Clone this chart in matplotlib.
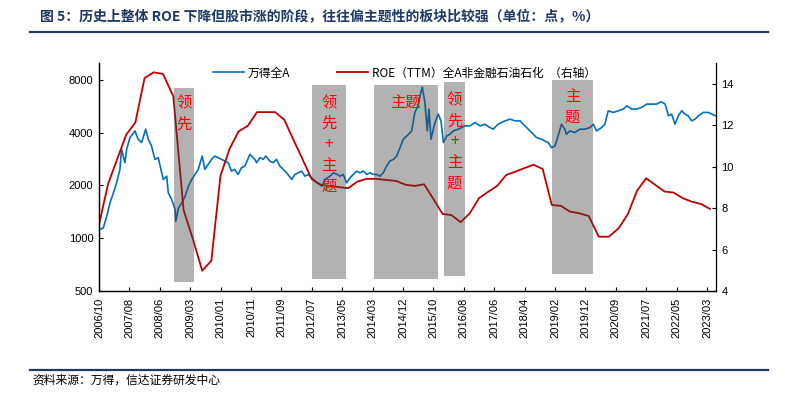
import numpy as np
import pandas as pd
import matplotlib
matplotlib.use("Agg")
import matplotlib.pyplot as plt
from matplotlib.patches import Rectangle
from matplotlib.lines import Line2D
from matplotlib.ticker import NullLocator

plt.rcParams['font.family'] = ['Noto Sans CJK SC', 'DejaVu Sans']

# ---------------- data ----------------
tick_labels = ['2006/10', '2007/08', '2008/06', '2009/03', '2010/01', '2010/11',
               '2011/09', '2012/07', '2013/05', '2014/03', '2014/12', '2015/10',
               '2016/08', '2017/06', '2018/04', '2019/02', '2019/12', '2020/09',
               '2021/07', '2022/05', '2023/03']

wind_dates = [
    '2006-10-01', '2006-11-13', '2006-12-17', '2007-01-19', '2007-02-22', '2007-03-26',
    '2007-04-28', '2007-05-14', '2007-06-17', '2007-07-04', '2007-08-07', '2007-09-26',
    '2007-10-28', '2007-12-02', '2008-01-11', '2008-02-07', '2008-03-10', '2008-04-13',
    '2008-05-16', '2008-06-18', '2008-07-02', '2008-08-02', '2008-08-16', '2008-09-16',
    '2008-10-16', '2008-10-22', '2008-11-15', '2008-12-15', '2009-01-14', '2009-02-13',
    '2009-03-16', '2009-04-18', '2009-05-21', '2009-06-30', '2009-07-27', '2009-08-29',
    '2009-10-03', '2009-11-06', '2009-12-08', '2010-01-11', '2010-02-14', '2010-03-17',
    '2010-04-20', '2010-05-23', '2010-06-25', '2010-07-29', '2010-09-01', '2010-10-21',
    '2010-12-10', '2010-12-27', '2011-01-30', '2011-03-02', '2011-03-29', '2011-05-08',
    '2011-06-11', '2011-07-14', '2011-08-17', '2011-09-20', '2011-10-23', '2011-12-13',
    '2012-01-15', '2012-02-18', '2012-03-21', '2012-04-24', '2012-05-27', '2012-07-16',
    '2012-08-19', '2012-09-22', '2012-10-09', '2012-11-11', '2012-12-30', '2013-02-03',
    '2013-03-12', '2013-04-09', '2013-05-11', '2013-06-15', '2013-07-18', '2013-08-20',
    '2013-09-24', '2013-10-26', '2013-11-29', '2014-01-02', '2014-02-05', '2014-03-07',
    '2014-04-07', '2014-05-06', '2014-06-06', '2014-07-06', '2014-08-05', '2014-09-05',
    '2014-10-05', '2014-11-04', '2014-12-04', '2015-01-08', '2015-02-10', '2015-02-26',
    '2015-03-29', '2015-05-01', '2015-05-28', '2015-06-12', '2015-07-08', '2015-08-01',
    '2015-08-17', '2015-09-07', '2015-09-30', '2015-10-23', '2015-11-19', '2015-12-16',
    '2016-01-09', '2016-02-12', '2016-03-15', '2016-04-17', '2016-06-07', '2016-07-10',
    '2016-08-12', '2016-10-02', '2016-11-21', '2017-01-10', '2017-02-28', '2017-04-19',
    '2017-05-21', '2017-07-11', '2017-09-17', '2017-11-07', '2017-12-26', '2018-02-15',
    '2018-03-18', '2018-04-21', '2018-06-11', '2018-07-30', '2018-09-19', '2018-10-22',
    '2018-11-25', '2018-12-28', '2019-02-01', '2019-03-04', '2019-04-07', '2019-05-09',
    '2019-05-26', '2019-06-28', '2019-08-18', '2019-10-07', '2019-11-26', '2020-01-11',
    '2020-02-11', '2020-03-11', '2020-04-25', '2020-05-25', '2020-06-24', '2020-08-09',
    '2020-09-25', '2020-11-15', '2020-12-19', '2021-02-08', '2021-03-27', '2021-05-16',
    '2021-07-06', '2021-08-25', '2021-10-14', '2021-11-27', '2022-01-06', '2022-02-09',
    '2022-03-12', '2022-04-15', '2022-05-18', '2022-06-21', '2022-07-24', '2022-08-26',
    '2022-09-29', '2022-11-02', '2022-12-05', '2023-01-24', '2023-03-14', '2023-04-17',
    '2023-05-29']

wind_values = [
    1119, 1144, 1334, 1592, 1816, 2072,
    2470, 3217, 2699, 3217, 3755, 4097,
    3672, 3515, 4190, 3672, 3361, 2819,
    2884, 2365, 2165, 2261, 1816, 1662,
    1457, 1248, 1490, 1592, 1736, 1982,
    2165, 2313, 2470, 2945, 2470, 2639,
    2819, 2945, 2884, 2819, 2757, 2699,
    2416, 2470, 2313, 2526, 2581, 3012,
    2819, 2699, 2884, 2819, 2945, 2757,
    2699, 2819, 2581, 2470, 2365, 2165,
    2313, 2365, 2416, 2261, 2313, 2165,
    2072, 2026, 1982, 2165, 2261, 2365,
    2313, 2261, 2313, 2072, 2214, 2313,
    2416, 2365, 2416, 2313, 2365, 2313,
    2313, 2261, 2365, 2581, 2757, 2819,
    2945, 3290, 3672, 3835, 4011, 4097,
    5224, 5697, 6802, 7266, 5959, 4097,
    5457, 3672, 4190, 4675, 5106, 4675,
    3515, 3835, 3922, 4097, 4190, 4284,
    4376, 4376, 4577, 4376, 4475, 4284,
    4190, 4475, 4675, 4780, 4675, 4675,
    4475, 4284, 4011, 3755, 3672, 3590,
    3515, 3290, 3361, 3835, 4475, 4190,
    3922, 4097, 4011, 4190, 4190, 4284,
    4475, 4097, 4284, 4475, 5333, 5224,
    5333, 5457, 5697, 5457, 5457, 5579,
    5828, 5828, 5828, 6009, 5828, 4994,
    5106, 4475, 4994, 5333, 5106, 4994,
    4675, 4780, 4994, 5224, 5224, 5106,
    4994]

roe_quarters = [
    '2006Q3', '2006Q4',
    '2007Q1', '2007Q2', '2007Q3', '2007Q4',
    '2008Q1', '2008Q2', '2008Q3', '2008Q4',
    '2009Q1', '2009Q2', '2009Q3', '2009Q4',
    '2010Q1', '2010Q2', '2010Q3', '2010Q4',
    '2011Q1', '2011Q2', '2011Q3', '2011Q4',
    '2012Q1', '2012Q2', '2012Q3', '2012Q4',
    '2013Q1', '2013Q2', '2013Q3', '2013Q4',
    '2014Q1', '2014Q2', '2014Q3', '2014Q4',
    '2015Q1', '2015Q2', '2015Q3', '2015Q4',
    '2016Q1', '2016Q2', '2016Q3', '2016Q4',
    '2017Q1', '2017Q2', '2017Q3', '2017Q4',
    '2018Q1', '2018Q2', '2018Q3', '2018Q4',
    '2019Q1', '2019Q2', '2019Q3', '2019Q4',
    '2020Q1', '2020Q2', '2020Q3', '2020Q4',
    '2021Q1', '2021Q2', '2021Q3', '2021Q4',
    '2022Q1', '2022Q2', '2022Q3', '2022Q4',
    '2023Q1']

roe_values = [
    7.20, 9.17,
    10.35, 11.54, 12.13, 14.27,
    14.55, 14.47, 13.39, 7.91,
    6.46, 4.98, 5.46, 9.56,
    10.85, 11.70, 11.97, 12.63,
    12.63, 12.63, 12.26, 11.29,
    10.35, 9.40, 9.12, 9.07,
    9.01, 8.96, 9.28, 9.41,
    9.41, 9.36, 9.31, 9.12,
    9.07, 9.15, 8.45, 7.72,
    7.66, 7.32, 7.75, 8.48,
    8.78, 9.07, 9.60, 9.76,
    9.93, 10.09, 9.89, 8.15,
    8.11, 7.83, 7.75, 7.62,
    6.62, 6.62, 7.03, 7.72,
    8.83, 9.44, 9.12, 8.80,
    8.75, 8.48, 8.31, 8.20,
    7.96]

# shaded phases: (start, end, label)
phase_start = ['2008-10-05', '2012-07-01', '2014-03-10', '2016-01-15', '2019-01-05']
phase_end = ['2009-04-10', '2013-06-05', '2015-11-15', '2016-08-15', '2020-02-05']
phase_label = ['领先', '领先+主题', '主题', '领先+主题', '主题']

legend_labels = ['万得全A', 'ROE（TTM）全A非金融石油石化  （右轴）']
title = '图 5：历史上整体 ROE 下降但股市涨的阶段，往往偏主题性的板块比较强（单位：点，%）'
source = '资料来源：万得，信达证券研发中心'


# ---------------- helpers ----------------
def to_year(dates):
    ts = pd.DatetimeIndex(pd.to_datetime(dates))
    return np.asarray(ts.year + (ts.dayofyear - 1) / 365.25, dtype=float)


tick_years = to_year([t.replace('/', '-') + '-01' for t in tick_labels])
anchor_years = np.append(tick_years, to_year(['2024-01-01']))
anchor_pos = np.append(np.arange(len(tick_labels)), len(tick_labels)).astype(float)


def xpos(dates):
    return np.interp(to_year(dates), anchor_years, anchor_pos)


roe_dates = pd.PeriodIndex(roe_quarters, freq='Q').end_time.normalize()

BLUE = '#0070C0'
RED = '#C00000'
NAVY = '#1F3864'

# ---------------- figure ----------------
fig = plt.figure(figsize=(7.85, 3.95), dpi=100)
ax = fig.add_axes([99 / 785, 1 - 291 / 395, 617 / 785, 228 / 395])
ax2 = ax.twinx()

l1, = ax.plot(xpos(wind_dates), wind_values, color=BLUE, lw=1.2, zorder=2)
l2, = ax2.plot(xpos(roe_dates), roe_values, color=RED, lw=1.3, zorder=2)

ax.set_yscale('log')
ax.set_ylim(500, 10000)
ax.set_yticks([500, 1000, 2000, 4000, 8000])
ax.set_yticklabels(['500', '1000', '2000', '4000', '8000'])
ax.yaxis.set_minor_locator(NullLocator())
ax2.set_ylim(4, 15)
ax2.set_yticks([4, 6, 8, 10, 12, 14])
ax2.set_yticklabels(['4', '6', '8', '10', '12', '14'])

ax.set_xlim(0, (716 - 99) / 30.4)
ax.set_xticks(np.arange(len(tick_labels)))
ax.set_xticklabels(tick_labels, rotation=90)

for a in (ax, ax2):
    a.tick_params(axis='both', direction='in', length=3, width=0.8, labelsize=8, pad=4)
    a.spines['top'].set_visible(False)
    for s in a.spines.values():
        s.set_linewidth(0.9)
ax.spines['right'].set_visible(False)
ax.tick_params(axis='x', pad=5)
for lab in ax.get_xticklabels() + ax.get_yticklabels() + ax2.get_yticklabels():
    lab.set_fontfamily(['Liberation Sans', 'DejaVu Sans'])

# shaded boxes with labels
box_top = [0.889, 0.905, 0.905, 0.918, 0.927]
box_bot = [0.041, 0.051, 0.051, 0.066, 0.075]
label_top = [0.823, 0.826, 0.829, 0.838, 0.852]
trans = ax2.get_xaxis_transform()
for s, e, lab, bt, bb, lt in zip(phase_start, phase_end, phase_label, box_top, box_bot, label_top):
    x0, x1 = xpos([s, e])
    ax2.add_patch(Rectangle((x0, bb), x1 - x0, bt - bb, transform=trans,
                            facecolor=(0.25, 0.25, 0.25), alpha=0.4, edgecolor='none', zorder=5))
    xc = (x0 + x1) / 2
    if lab == '主题' and (x1 - x0) > 1.5:
        ax2.text(xc, lt, lab, transform=trans, ha='center', va='center',
                 color='#FF0000', fontsize=11, zorder=6)
    else:
        for i, ch in enumerate(lab):
            ax2.annotate(ch, xy=(xc, lt), xycoords=trans, xytext=(0, -15 * i),
                         textcoords='offset points', ha='center', va='center',
                         color='#FF0000', fontsize=11, zorder=6)

leg = ax2.legend([l1, l2], legend_labels, loc='upper left',
                 bbox_to_anchor=((213 - 99) / 617, 0.985), ncol=2, frameon=False,
                 fontsize=8.5, handlelength=2.6, handletextpad=0.35, columnspacing=4.0,
                 borderpad=0, borderaxespad=0)
leg.set_zorder(7)

# title, rules, source
fig.text(40 / 785, 1 - 16 / 395, title, fontsize=10, fontweight='bold', color=NAVY,
         ha='left', va='center')
fig.add_artist(Line2D([30 / 785, 768 / 785], [1 - 31.7 / 395] * 2, color=NAVY, lw=1.6))
fig.add_artist(Line2D([30 / 785, 768 / 785], [1 - 370 / 395] * 2, color=NAVY, lw=1.6))
fig.text(32 / 785, 1 - 380 / 395, source, fontsize=8.5, ha='left', va='center', color='black')

fig.savefig('out.png', dpi=100)
